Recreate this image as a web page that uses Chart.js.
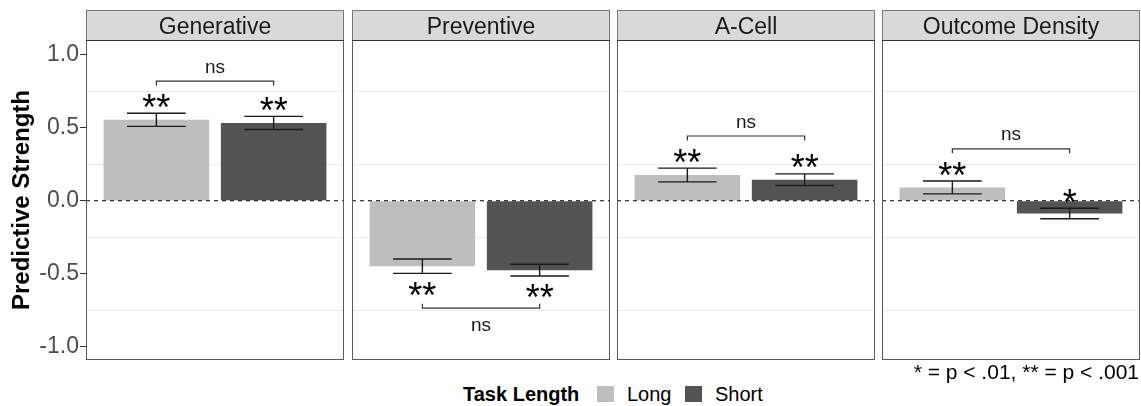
<!DOCTYPE html>
<html>
<head>
<meta charset="utf-8">
<script src="https://cdn.jsdelivr.net/npm/chart.js@4.4.1/dist/chart.umd.min.js"></script>
<style>
  html, body { margin: 0; padding: 0; background: #fff; }
  #wrap { position: relative; width: 1141px; height: 406px; overflow: hidden;
          font-family: 'Liberation Sans', Arial, sans-serif; color: #000; }
  .panel { position: absolute; top: 0; }
  .note { position: absolute; right: 2px; top: 361px; font-size: 21px; line-height: 21px; white-space: nowrap; }
  .leg { position: absolute; top: 384px; font-size: 20px; line-height: 20px; white-space: nowrap; }
  .key { position: absolute; top: 386px; width: 17px; height: 16px; }
</style>
</head>
<body>
<div id="wrap">
  <div class="panel" style="left:0px"><canvas id="c0" width="344" height="361"></canvas></div>
  <div class="panel" style="left:352px"><canvas id="c1" width="258" height="361"></canvas></div>
  <div class="panel" style="left:617px"><canvas id="c2" width="258" height="361"></canvas></div>
  <div class="panel" style="left:882px"><canvas id="c3" width="258" height="361"></canvas></div>
  <div class="note">* = p &lt; .01, ** = p &lt; .001</div>
  <div class="leg" style="left:463px;font-weight:bold">Task Length</div>
  <div id="legend"></div>
</div>
<script>
// data
const facets = ['Generative', 'Preventive', 'A-Cell', 'Outcome Density'];
const groups = ['Long', 'Short'];
const longMean = [0.554, -0.448, 0.176, 0.091];
const longSE = [0.045, 0.049, 0.047, 0.044];
const shortMean = [0.532, -0.475, 0.144, -0.087];
const shortSE = [0.045, 0.040, 0.040, 0.036];
const longSig = ['**', '**', '**', '**'];
const shortSig = ['**', '**', '**', '*'];
const pairSig = ['ns', 'ns', 'ns', 'ns'];
const yTicks = [-1, -0.5, 0, 0.5, 1];
const yMinor = [-0.75, -0.25, 0.25, 0.75];

const xPos = [1, 2];
const means = [longMean, shortMean];
const ses = [longSE, shortSE];
const sigs = [longSig, shortSig];
const barColors = ['#BEBEBE', '#535353'];
const FONT = "'Liberation Sans', Arial, sans-serif";

Chart.defaults.font.family = FONT;

// legend (html)
const keyLeft = [597, 685];
const textLeft = [627, 715];
let legHtml = '';
for (let k = 0; k < groups.length; k++) {
    legHtml += '<div class="key" style="left:' + keyLeft[k] + 'px;background:' + barColors[k] + '"></div>';
    legHtml += '<div class="leg" style="left:' + textLeft[k] + 'px">' + groups[k] + '</div>';
}
document.getElementById('legend').innerHTML = legHtml;

const facetDecor = {
    id: 'facetDecor',
    beforeDraw: function (chart, args, opts) {
        const ctx = chart.ctx;
        const a = chart.chartArea;
        ctx.save();
        // strip
        ctx.fillStyle = '#D9D9D9';
        ctx.fillRect(a.left, 10, a.right - a.left, a.top - 10);
        ctx.strokeStyle = '#7a7a7a';
        ctx.lineWidth = 1;
        ctx.strokeRect(a.left + 0.5, 10.5, a.right - a.left - 1, a.top - 10);
        ctx.fillStyle = '#1A1A1A';
        ctx.font = '23px ' + FONT;
        ctx.textAlign = 'center';
        ctx.textBaseline = 'alphabetic';
        ctx.fillText(facets[opts.index], (a.left + a.right) / 2, 33.5);
        ctx.restore();
    },
    afterDatasetsDraw: function (chart, args, opts) {
        const i = opts.index;
        const ctx = chart.ctx;
        const a = chart.chartArea;
        const xs = chart.scales.x;
        const ys = chart.scales.y;
        const dir = Math.sign(longMean[i]) || 1;
        ctx.save();

        // zero reference line
        const y0 = ys.getPixelForValue(0);
        ctx.strokeStyle = '#000';
        ctx.lineWidth = 1;
        ctx.setLineDash([4, 4]);
        ctx.beginPath();
        ctx.moveTo(a.left, y0);
        ctx.lineTo(a.right, y0);
        ctx.stroke();
        ctx.setLineDash([]);

        // error bars + stars
        ctx.strokeStyle = '#1a1a1a';
        ctx.lineWidth = 1.4;
        ctx.fillStyle = '#000';
        ctx.textAlign = 'center';
        ctx.textBaseline = 'alphabetic';
        ctx.font = '36px ' + FONT;
        let ext = dir > 0 ? -Infinity : Infinity;
        for (let k = 0; k < groups.length; k++) {
            const m = means[k][i];
            const s = ses[k][i];
            const cx = xs.getPixelForValue(xPos[k]);
            const hw = xs.getPixelForValue(xPos[k] + 0.25) - cx;
            const yt = ys.getPixelForValue(m + s);
            const yb = ys.getPixelForValue(m - s);
            ctx.beginPath();
            ctx.moveTo(cx - hw, yt); ctx.lineTo(cx + hw, yt);
            ctx.moveTo(cx - hw, yb); ctx.lineTo(cx + hw, yb);
            ctx.moveTo(cx, yt); ctx.lineTo(cx, yb);
            ctx.stroke();

            const end = dir > 0 ? m + s : m - s;
            ext = dir > 0 ? Math.max(ext, end) : Math.min(ext, end);
            const sy = ys.getPixelForValue(end + dir * 0.095);
            ctx.fillText(sigs[k][i], cx, sy + 0.57 * 36);
        }

        // comparison bracket
        const by = ys.getPixelForValue(ext + dir * 0.22);
        const x1 = xs.getPixelForValue(xPos[0]);
        const x2 = xs.getPixelForValue(xPos[1]);
        ctx.strokeStyle = '#333';
        ctx.lineWidth = 1.2;
        ctx.beginPath();
        ctx.moveTo(x1, by + dir * 4.5);
        ctx.lineTo(x1, by);
        ctx.lineTo(x2, by);
        ctx.lineTo(x2, by + dir * 4.5);
        ctx.stroke();
        ctx.fillStyle = '#1a1a1a';
        ctx.font = '19px ' + FONT;
        ctx.fillText(pairSig[i], (x1 + x2) / 2, dir > 0 ? by - 8.5 : by + 23);
        ctx.restore();
    },
    afterDraw: function (chart) {
        const ctx = chart.ctx;
        const a = chart.chartArea;
        ctx.save();
        ctx.strokeStyle = '#5a5a5a';
        ctx.lineWidth = 1;
        ctx.strokeRect(a.left + 0.5, a.top + 0.5, a.right - a.left - 1, a.bottom - a.top - 1);
        ctx.strokeStyle = '#333';
        ctx.beginPath();
        ctx.moveTo(a.left, a.top + 0.5);
        ctx.lineTo(a.right, a.top + 0.5);
        ctx.stroke();
        ctx.restore();
    }
};

function makeChart(i) {
    const first = (i === 0);
    return new Chart(document.getElementById('c' + i), {
        type: 'bar',
        data: {
            datasets: groups.map(function (g, k) {
                return {
                    label: g,
                    data: [{ x: xPos[k], y: means[k][i] }],
                    backgroundColor: barColors[k],
                    borderWidth: 0,
                    grouped: false,
                    categoryPercentage: 1,
                    barPercentage: 0.9
                };
            })
        },
        plugins: [facetDecor],
        options: {
            responsive: false,
            animation: false,
            layout: { padding: { top: 40, bottom: 1, left: 0, right: 0 } },
            plugins: {
                legend: { display: false },
                tooltip: { enabled: false },
                facetDecor: { index: i }
            },
            scales: {
                x: {
                    type: 'linear',
                    min: 0.4,
                    max: 2.6,
                    offset: false,
                    display: true,
                    ticks: { display: false },
                    grid: { display: false, offset: false },
                    border: { display: false },
                    afterBuildTicks: function (s) {
                        s.ticks = xPos.map(function (v) { return { value: v }; });
                    },
                    afterFit: function (s) {
                        s.height = 0;
                        s.paddingLeft = 0;
                        s.paddingRight = 0;
                    }
                },
                y: {
                    min: -1.09,
                    max: 1.1,
                    afterBuildTicks: function (s) {
                        s.ticks = yTicks.concat(yMinor).sort(function (p, q) { return p - q; })
                            .map(function (v) { return { value: v }; });
                    },
                    afterFit: function (s) {
                        s.width = first ? 86 : 0;
                        s.paddingTop = 0;
                        s.paddingBottom = 0;
                    },
                    border: { display: false },
                    grid: {
                        color: function (c) { return yMinor.includes(c.tick.value) ? '#EBEBEB' : 'rgba(0,0,0,0)'; },
                        lineWidth: 1,
                        drawTicks: first,
                        tickLength: 6,
                        tickColor: function (c) { return yTicks.includes(c.tick.value) ? '#333' : 'rgba(0,0,0,0)'; }
                    },
                    ticks: {
                        display: first,
                        autoSkip: false,
                        padding: 1,
                        color: '#4D4D4D',
                        font: { size: 23 },
                        callback: function (v) { return yTicks.includes(v) ? v.toFixed(1) : ''; }
                    },
                    title: {
                        display: first,
                        text: 'Predictive Strength',
                        color: '#000',
                        font: { size: 24, weight: 'bold' },
                        padding: { top: 8, bottom: 0 }
                    }
                }
            }
        }
    });
}

for (let i = 0; i < facets.length; i++) {
    makeChart(i);
}
</script>
</body>
</html>
